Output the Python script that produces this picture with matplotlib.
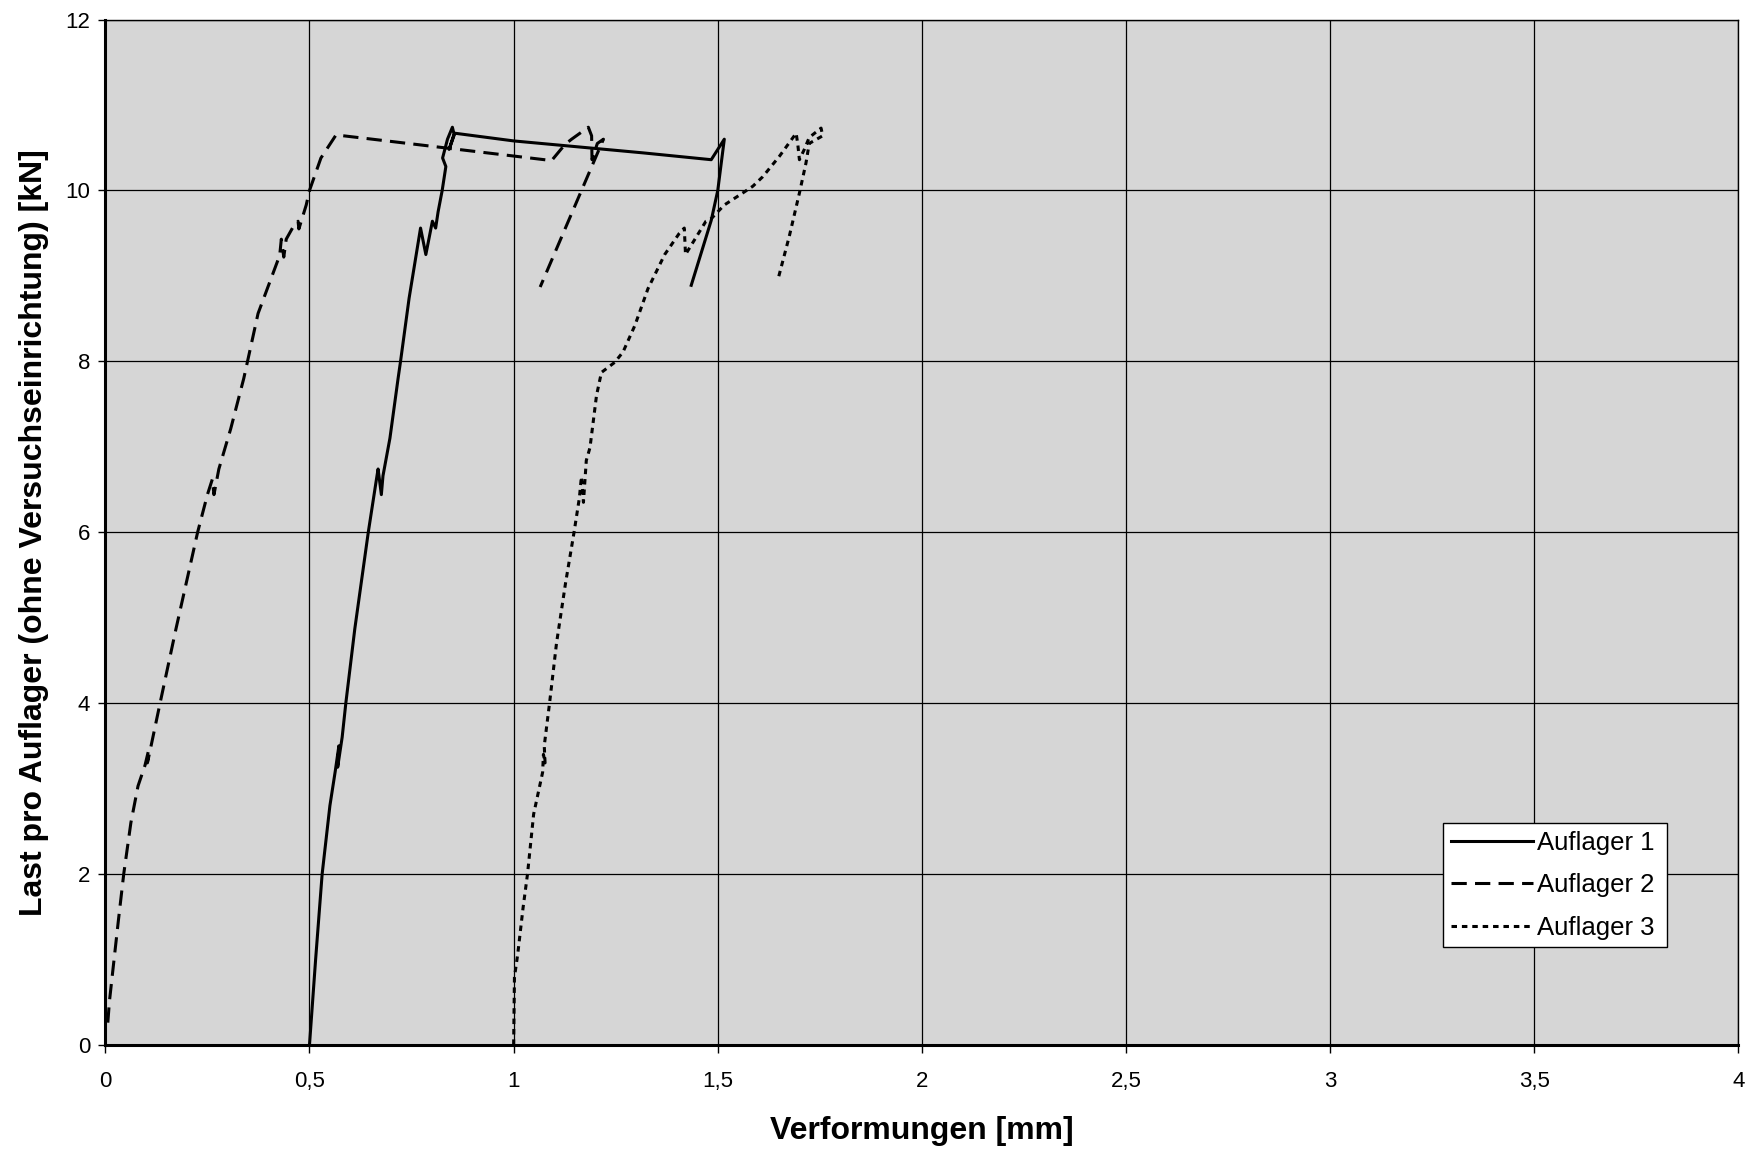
import numpy as np
import matplotlib.pyplot as plt

plt.rcParams['font.family'] = ['Liberation Sans', 'DejaVu Sans']

# Auflager 1 (solid)
a1_x = [0.500, 0.515, 0.531, 0.550, 0.563, 0.572, 0.569, 0.580, 0.589, 0.611, 0.644, 0.664,
        0.668, 0.676, 0.680, 0.697, 0.717, 0.723, 0.744, 0.772, 0.785, 0.801, 0.809, 0.815,
        0.825, 0.834, 0.826, 0.838, 0.850, 0.854, 0.842, 0.856, 1.000, 1.317, 1.484, 1.516,
        1.500, 1.484, 1.435]
a1_y = [0.00, 1.00, 2.00, 2.80, 3.20, 3.50, 3.25, 3.60, 4.00, 4.87, 6.00, 6.62,
        6.74, 6.44, 6.66, 7.10, 7.80, 8.00, 8.74, 9.56, 9.25, 9.64, 9.56, 9.75,
        10.00, 10.28, 10.38, 10.60, 10.74, 10.66, 10.48, 10.67, 10.58, 10.44, 10.36, 10.60,
        10.00, 9.65, 8.89]

# Auflager 2 (dashed)
a2_x = [0.006, 0.010, 0.019, 0.032, 0.045, 0.0625, 0.080, 0.097, 0.106, 0.103, 0.112, 0.134,
        0.173, 0.226, 0.250, 0.262, 0.266, 0.278, 0.307, 0.339, 0.374, 0.427, 0.431, 0.437,
        0.443, 0.463, 0.472, 0.474, 0.492, 0.500, 0.528, 0.565, 0.654, 1.093, 1.126, 1.142,
        1.183, 1.191, 1.192, 1.205, 1.220, 1.065]
a2_y = [0.26, 0.51, 0.90, 1.46, 2.00, 2.60, 3.03, 3.27, 3.45, 3.30, 3.50, 4.00,
        4.87, 6.00, 6.44, 6.62, 6.44, 6.74, 7.21, 7.80, 8.56, 9.24, 9.43, 9.22,
        9.43, 9.60, 9.64, 9.55, 9.83, 10.00, 10.38, 10.65, 10.60, 10.35, 10.54, 10.60,
        10.74, 10.64, 10.36, 10.55, 10.60, 8.87]

# Auflager 3 (dotted)
a3_x = [1.000, 1.001, 1.002, 1.010, 1.023, 1.034, 1.049, 1.071, 1.073, 1.077, 1.075, 1.088,
        1.105, 1.127, 1.148, 1.161, 1.166, 1.171, 1.178, 1.187, 1.203, 1.215, 1.248, 1.268,
        1.297, 1.329, 1.370, 1.406, 1.418, 1.421, 1.471, 1.484, 1.516, 1.561, 1.586, 1.610,
        1.651, 1.692, 1.696, 1.700, 1.712, 1.724, 1.753, 1.757, 1.724, 1.716, 1.700, 1.675,
        1.647]
a3_y = [0.00, 0.40, 0.79, 1.06, 1.60, 2.00, 2.70, 3.19, 3.40, 3.30, 3.50, 4.00,
        4.70, 5.40, 6.00, 6.40, 6.65, 6.35, 6.84, 6.99, 7.60, 7.87, 7.99, 8.11,
        8.42, 8.85, 9.25, 9.50, 9.56, 9.25, 9.64, 9.67, 9.83, 9.97, 10.05, 10.16,
        10.40, 10.67, 10.54, 10.36, 10.48, 10.62, 10.73, 10.64, 10.55, 10.32, 9.97, 9.46,
        8.95]

x_ticks = [0, 0.5, 1, 1.5, 2, 2.5, 3, 3.5, 4]
x_labels = ['0', '0,5', '1', '1,5', '2', '2,5', '3', '3,5', '4']
y_ticks = [0, 2, 4, 6, 8, 10, 12]
y_labels = ['0', '2', '4', '6', '8', '10', '12']

fig = plt.figure(figsize=(17.56, 11.52), dpi=100)
ax = fig.add_axes([0.060, 0.093, 0.930, 0.890])
ax.set_facecolor('#d6d6d6')

ax.plot(a1_x, a1_y, color='black', lw=2.2, ls='-', label='Auflager 1')
ax.plot(a2_x, a2_y, color='black', lw=2.2, ls=(0, (5, 2.7)), label='Auflager 2')
ax.plot(a3_x, a3_y, color='black', lw=2.2, ls=(0, (1.8, 1.6)), label='Auflager 3')

ax.set_xlim(0, 4)
ax.set_ylim(0, 12)
ax.set_xticks(x_ticks)
ax.set_xticklabels(x_labels, fontsize=16)
ax.set_yticks(y_ticks)
ax.set_yticklabels(y_labels, fontsize=16)
ax.tick_params(axis='x', direction='out', length=6, width=1, pad=13)
ax.tick_params(axis='y', direction='out', length=5, width=1, pad=6)
ax.grid(True, color='black', lw=0.9)
ax.set_axisbelow(True)
for side in ['left', 'bottom']:
    ax.spines[side].set_linewidth(2.2)
for side in ['top', 'right']:
    ax.spines[side].set_linewidth(1.0)

ax.set_xlabel('Verformungen [mm]', fontsize=23, fontweight='bold', labelpad=17)
ax.set_ylabel('Last pro Auflager (ohne Versuchseinrichtung) [kN]', fontsize=23,
              fontweight='bold', labelpad=12)

leg = ax.legend(loc='lower left', bbox_to_anchor=(0.819, 0.095, 0.137, 0.122), mode='expand',
                fontsize=18.5, handlelength=3.2, handletextpad=0.15, labelspacing=0.72,
                borderpad=0.3, borderaxespad=0, fancybox=False, framealpha=1,
                edgecolor='black')
leg.get_frame().set_linewidth(1.0)

fig.savefig('out.png', dpi=100)
